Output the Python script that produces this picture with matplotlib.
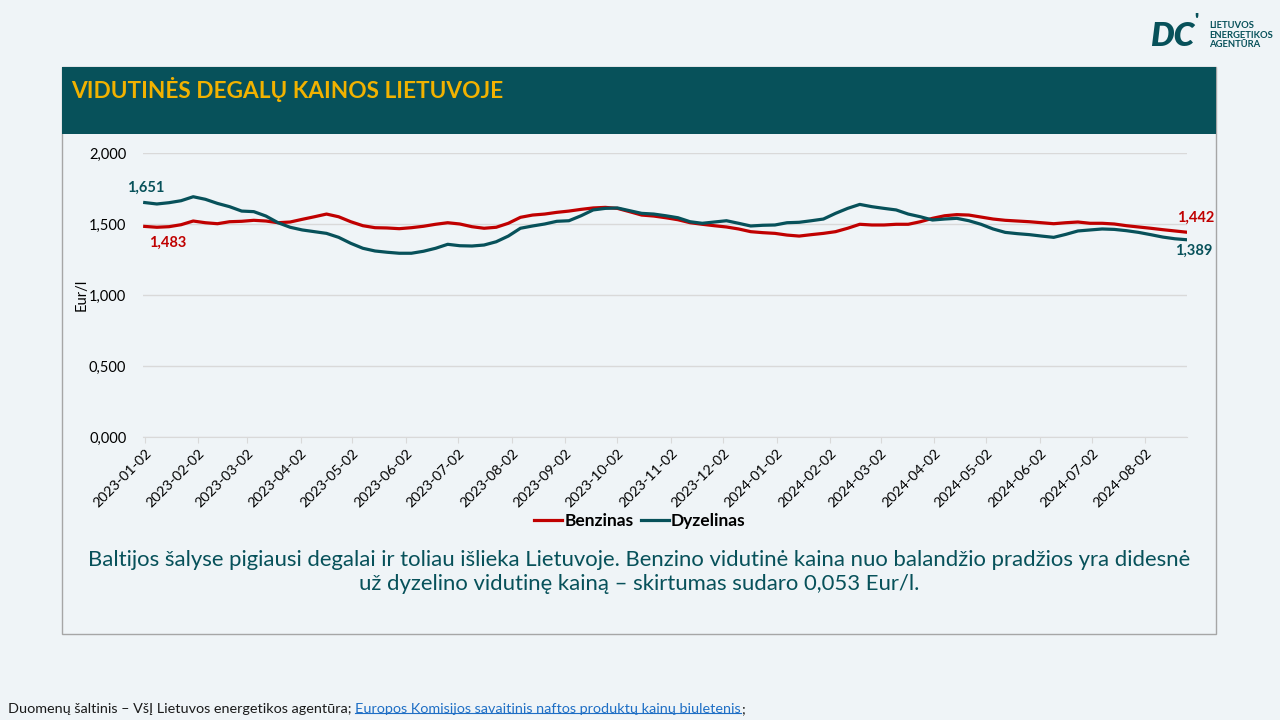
import pandas as pd
import matplotlib.pyplot as plt
from matplotlib.patches import Rectangle
from matplotlib.lines import Line2D

# weekly average prices, Eur/l (Mondays from 2023-01-02)
dates = pd.date_range("2023-01-02", periods=87, freq="7D")

benzinas = [
    1.483, 1.477, 1.481, 1.495, 1.521, 1.509, 1.502, 1.516, 1.519, 1.526,
    1.521, 1.509, 1.514, 1.533, 1.551, 1.570, 1.551, 1.516, 1.488, 1.474,
    1.472, 1.467, 1.474, 1.484, 1.498, 1.509, 1.500, 1.481, 1.470, 1.477,
    1.505, 1.547, 1.563, 1.570, 1.582, 1.591, 1.603, 1.613, 1.617, 1.610,
    1.587, 1.563, 1.556, 1.544, 1.530, 1.509, 1.498, 1.488, 1.479, 1.465,
    1.446, 1.439, 1.434, 1.422, 1.415, 1.425, 1.434, 1.446, 1.470, 1.498,
    1.493, 1.493, 1.498, 1.498, 1.516, 1.540, 1.558, 1.566, 1.563, 1.549,
    1.535, 1.526, 1.521, 1.516, 1.509, 1.502, 1.509, 1.514, 1.505, 1.505,
    1.500, 1.488, 1.479, 1.470, 1.460, 1.451, 1.442,
]

dyzelinas = [
    1.651, 1.641, 1.650, 1.664, 1.692, 1.674, 1.645, 1.622, 1.591, 1.587,
    1.556, 1.509, 1.477, 1.458, 1.446, 1.434, 1.406, 1.364, 1.329, 1.310,
    1.301, 1.294, 1.294, 1.308, 1.329, 1.357, 1.347, 1.345, 1.352, 1.375,
    1.415, 1.470, 1.486, 1.500, 1.519, 1.523, 1.558, 1.599, 1.610, 1.613,
    1.594, 1.575, 1.570, 1.558, 1.544, 1.516, 1.505, 1.514, 1.523, 1.505,
    1.486, 1.491, 1.493, 1.509, 1.512, 1.523, 1.535, 1.575, 1.610, 1.638,
    1.622, 1.610, 1.599, 1.570, 1.551, 1.528, 1.535, 1.540, 1.523, 1.498,
    1.465, 1.441, 1.432, 1.425, 1.415, 1.406, 1.427, 1.451, 1.458, 1.465,
    1.462, 1.453, 1.441, 1.425, 1.408, 1.396, 1.389,
]

tick_dates = pd.date_range("2023-01-01", "2024-08-01", freq="MS") + pd.Timedelta(days=1)
tick_labels = [d.strftime("%Y-%m-%d") for d in tick_dates]
y_ticks = [0.0, 0.5, 1.0, 1.5, 2.0]

title = "VIDUTINĖS DEGALŲ KAINOS LIETUVOJE"
comment = ("Baltijos šalyse pigiausi degalai ir toliau išlieka Lietuvoje. Benzino vidutinė kaina nuo balandžio pradžios yra didesnė\n"
           "už dyzelino vidutinę kainą – skirtumas sudaro 0,053 Eur/l.")

BG = "#eff4f7"
TEAL = "#07515a"
RED = "#c00000"
GOLD = "#f2b200"

plt.rcParams["font.family"] = ["Lato", "DejaVu Sans"]

fig = plt.figure(figsize=(12.8, 7.2), dpi=100, facecolor=BG)
W, H = 1280, 720

def fx(px):
    return px / W

def fy(py):
    return 1 - py / H

# panel frame and title banner
fig.patches.append(Rectangle((fx(62), fy(634)), fx(1216) - fx(62), fy(67) - fy(634),
                             transform=fig.transFigure, facecolor=BG, edgecolor="#a6a6a6", lw=1, zorder=-2))
fig.patches.append(Rectangle((fx(62), fy(134)), fx(1216) - fx(62), fy(67) - fy(134),
                             transform=fig.transFigure, facecolor=TEAL, edgecolor="none", zorder=-1))
fig.text(fx(71), fy(89), title, color=GOLD, fontsize=16.3, fontweight="bold", va="center", ha="left")

# chart
ax = fig.add_axes([fx(143), fy(437), fx(1187) - fx(143), fy(153) - fy(437)])
ax.set_facecolor(BG)
ax.plot(dates, benzinas, color=RED, lw=2.3, label="Benzinas", zorder=3)
ax.plot(dates, dyzelinas, color=TEAL, lw=2.3, label="Dyzelinas", zorder=3)

ax.set_ylim(0, 2.0)
ax.set_xlim(dates[0] - pd.Timedelta(days=1), dates[-1])
ax.set_yticks(y_ticks)
ax.set_yticklabels([f"{v:.3f}".replace(".", ",") for v in y_ticks], fontsize=10.5)
ax.set_xticks(tick_dates)
ax.set_xticklabels(tick_labels, rotation=45, ha="right", va="top", rotation_mode="anchor", fontsize=10.3)
ax.tick_params(axis="y", length=0, pad=12)
ax.tick_params(axis="x", length=4, color="#d9d9d9", pad=3)
ax.grid(axis="y", color="#d9d9d9", lw=1)
ax.set_axisbelow(True)
for s in ["top", "right", "left"]:
    ax.spines[s].set_visible(False)
ax.spines["bottom"].set_color("#d9d9d9")
ax.set_ylabel("Eur/l", fontsize=10.5, labelpad=0)

# end labels
lab = dict(textcoords="offset pixels", ha="center", va="center", fontsize=10.5, fontweight="bold")
ax.annotate("1,651", (dates[0], dyzelinas[0]), xytext=(1, 15), color=TEAL, **lab)
ax.annotate("1,483", (dates[0], benzinas[0]), xytext=(23, -16), color=RED, **lab)
ax.annotate("1,442", (dates[-1], benzinas[-1]), xytext=(9, 14), color=RED, **lab)
ax.annotate("1,389", (dates[-1], dyzelinas[-1]), xytext=(7, -11), color=TEAL, **lab)

fig.legend(loc="center", bbox_to_anchor=(fx(640), fy(521)), ncol=2, frameon=False,
           handlelength=1.6, handletextpad=0.15, columnspacing=0.4,
           prop={"weight": "bold", "size": 12.5})

fig.text(fx(639), fy(572), comment, color=TEAL, fontsize=15.9, ha="center", va="center",
         linespacing=1.3)

# logo
fig.text(fx(1150), fy(36), "DC", color=TEAL, fontsize=24, fontweight="heavy",
         style="italic", ha="left", va="center")
fig.text(fx(1194), fy(22), "'", color=TEAL, fontsize=14, fontweight="heavy", ha="left", va="center")
fig.text(fx(1209), fy(35), "LIETUVOS\nENERGETIKOS\nAGENTŪRA", color=TEAL, fontsize=6.8,
         fontweight="bold", ha="left", va="center", linespacing=1.05)

# footer with link
t1 = fig.text(fx(8), fy(709), "Duomenų šaltinis – VšĮ Lietuvos energetikos agentūra; ",
              fontsize=10.4, ha="left", va="center", color="#1a1a1a")
t2 = fig.text(0, 0, "Europos Komisijos savaitinis naftos produktų kainų biuletenis", fontsize=10.4,
              ha="left", va="center", color="#1f6fc5")
t3 = fig.text(0, 0, ";", fontsize=10.4, ha="left", va="center", color="#1a1a1a")
fig.canvas.draw()
r = fig.canvas.get_renderer()
b1 = t1.get_window_extent(r)
t2.set_position((b1.x1 / W, fy(709)))
fig.canvas.draw()
b2 = t2.get_window_extent(r)
t3.set_position((b2.x1 / W, fy(709)))
fig.lines.append(Line2D([b2.x0 / W, b2.x1 / W], [b2.y0 / H + 0.003, b2.y0 / H + 0.003],
                        transform=fig.transFigure, color="#1f6fc5", lw=0.8))

fig.savefig("out.png", dpi=100, facecolor=BG)
